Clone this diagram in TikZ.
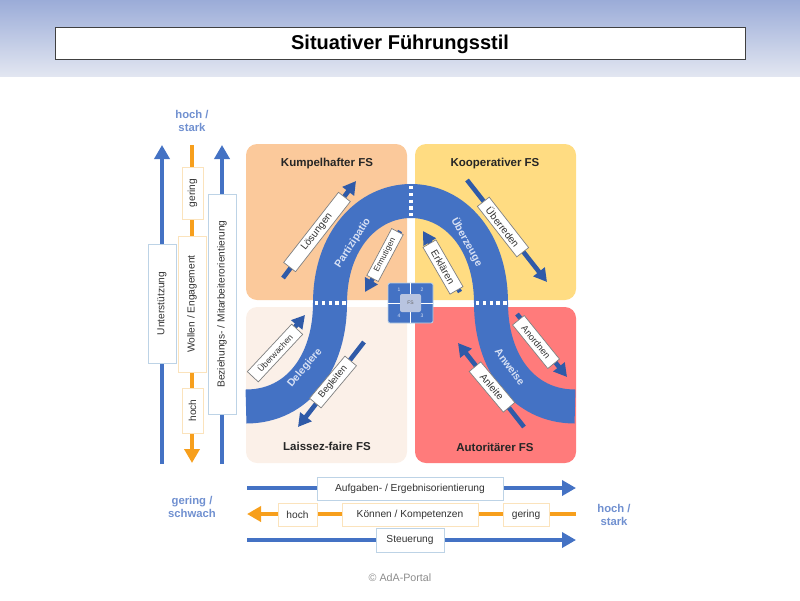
\documentclass[tikz,border=0pt]{standalone}
\usepackage{fontspec}
\setmainfont{Liberation Sans}
\usetikzlibrary{positioning,arrows.meta}
\definecolor{bandtop}{HTML}{9BACD8}
\definecolor{bandbot}{HTML}{E2E6F1}
\definecolor{flowblue}{HTML}{4472C4}
\definecolor{darkblue}{HTML}{2F5AA8}
\definecolor{floworange}{HTML}{F79F1C}
\definecolor{headblue}{HTML}{7090D0}
\definecolor{edgeblue}{HTML}{BDD3E6}
\definecolor{edgeorange}{HTML}{FBE3BC}
\definecolor{archtext}{HTML}{D8E1F4}
\definecolor{fsinner}{HTML}{B8C4E0}
\definecolor{kumpelfill}{HTML}{FBC99B}
\definecolor{koopfill}{HTML}{FFDC82}
\definecolor{laissezfill}{HTML}{FBF0E8}
\definecolor{autorfill}{HTML}{FF7B7B}

\begin{document}
\begin{tikzpicture}[x=1pt,y=-1pt]
      \tikzstyle{quadrant}=[rectangle, rounded corners=11pt, minimum width=161pt, minimum height=156pt, outer sep=0pt, inner sep=0pt]
      \tikzstyle{fstitle}=[font=\fontsize{11.5}{13}\selectfont\bfseries, text=black!85]
      \tikzstyle{axis}=[font=\fontsize{11.3}{13}\selectfont\bfseries, text=headblue, align=center]
      \tikzstyle{axisblue}=[-{Triangle[width=15pt,length=14pt]}, line width=4.8pt, flowblue]
      \tikzstyle{axisorange}=[-{Triangle[width=15pt,length=14pt]}, line width=4.8pt, floworange]
      \tikzstyle{bluebox}=[rectangle, draw=edgeblue, fill=white, line width=0.8pt, inner sep=0pt, font=\fontsize{10.2}{12}\selectfont, text=black!80]
      \tikzstyle{orangebox}=[rectangle, draw=edgeorange, fill=white, line width=0.8pt, inner sep=0pt, font=\fontsize{10.2}{12}\selectfont, text=black!80]
      \tikzstyle{flow}=[-{Triangle[width=14pt,length=13pt]}, line width=4.6pt, darkblue]
      \tikzstyle{tag}=[rectangle, draw=black!50, fill=white, line width=0.7pt, minimum height=15pt, inner sep=0pt, font=\fontsize{10}{11}\selectfont, text=black!80]
      \tikzstyle{archword}=[font=\fontsize{10.5}{12}\selectfont\bfseries, text=archtext]
      \tikzstyle{dots}=[white, line width=3.2pt, dash pattern=on 3.4pt off 3.4pt]
      \tikzstyle{fsnum}=[font=\fontsize{5}{6}\selectfont, text=archtext]

      \useasboundingbox (0,0) rectangle (800,600);

      % header
      \shade[top color=bandtop, bottom color=bandbot] (0,0) rectangle (800,76);
      \node[rectangle, draw=black!75, fill=white, line width=0.9pt, minimum width=690pt, minimum height=32pt, inner sep=0pt] (title) at (400,43) {};
      \node[font=\fontsize{20}{22}\selectfont\bfseries] (titletext) at (400,44) {Situativer Führungsstil};

      % quadrants
      \node[quadrant, fill=kumpelfill] (kumpel) at (326.5,222) {};
      \node[quadrant, fill=koopfill] (koop) [right=8pt of kumpel] {};
      \node[quadrant, fill=laissezfill] (laissez) [below=7pt of kumpel] {};
      \node[quadrant, fill=autorfill] (autor) [below=7pt of koop] {};
      \node[fstitle] (kumpeltext) at (327,163.5) {Kumpelhafter FS};
      \node[fstitle] (kooptext) at (495,163.5) {Kooperativer FS};
      \node[fstitle] (laisseztext) at (327,446.5) {Laissez-faire FS};
      \node[fstitle] (autortext) at (495,447.5) {Autoritärer FS};

      % arch
      \draw[flowblue, line width=34pt] (246,406.5) .. controls (298,406.5) and (330,362) .. (330,303)
        .. controls (330,240) and (368,201) .. (411,201)
        .. controls (454,201) and (491,240) .. (491,303)
        .. controls (491,362) and (523,406.5) .. (575,406.5);
      \draw[dots] (411,186) -- (411,216);
      \draw[dots] (315,303) -- (346,303);
      \draw[dots] (476,303) -- (507,303);
      \node[archword, rotate=57] (partizipatio) at (353,243) {Partizipatio};
      \node[archword, rotate=-61] (ueberzeuge) at (467,242) {Überzeuge};
      \node[archword, rotate=50] (delegiere) at (305,368) {Delegiere};
      \node[archword, rotate=-54] (anweise) at (510,367) {Anweise};

      % flows
      \coordinate (l1) at (283,278);
      \coordinate (l2) at (356,181);
      \coordinate (b1) at (467,180);
      \coordinate (b2) at (547,282);
      \coordinate (m1) at (400,231);
      \coordinate (m2) at (365,292);
      \coordinate (e1) at (460,292);
      \coordinate (e2) at (423,231);
      \coordinate (w1) at (253,377);
      \coordinate (w2) at (305,315);
      \coordinate (g1) at (364,342);
      \coordinate (g2) at (298,427);
      \coordinate (o1) at (517,314);
      \coordinate (o2) at (567,377);
      \coordinate (a1) at (524,427);
      \coordinate (a2) at (458,343);
      \draw[flow] (l1) -- (l2);
      \draw[flow] (b1) -- (b2);
      \draw[flow] (m1) -- (m2);
      \draw[flow] (e1) -- (e2);
      \draw[flow] (w1) -- (w2);
      \draw[flow] (g1) -- (g2);
      \draw[flow] (o1) -- (o2);
      \draw[flow] (a1) -- (a2);
      \node[tag, minimum width=89pt, rotate=52] (loesungen) at (317,232) {Lösungen};
      \node[tag, minimum width=64pt, rotate=-52] (ueberreden) at (503,227) {Überreden};
      \node[tag, minimum width=53pt, minimum height=13pt, rotate=62, font=\fontsize{8.1}{9}\selectfont] (ermutigen) at (385,255) {Ermutigen};
      \node[tag, minimum width=54pt, rotate=-60] (erklaeren) at (443,267) {Erklären};
      \node[tag, minimum width=65pt, rotate=47, font=\fontsize{8.4}{9}\selectfont] (ueberwachen) at (275,353) {Überwachen};
      \node[tag, minimum width=55pt, rotate=50, font=\fontsize{9.4}{10}\selectfont] (begleiten) at (333,382) {Begleiten};
      \node[tag, minimum width=56pt, rotate=-51, font=\fontsize{9.2}{10}\selectfont] (anordnen) at (536,342) {Anordnen};
      \node[tag, minimum width=53pt, rotate=-50] (anleite) at (492,387) {Anleite};

      % centre
      \node[rectangle, rounded corners=2pt, draw=edgeblue, fill=flowblue, line width=0.8pt, minimum width=45pt, minimum height=40pt, inner sep=0pt] (fsbox) at (410.5,303) {};
      \draw[white, line width=0.8pt] (fsbox.north) -- (fsbox.south);
      \draw[white, line width=0.8pt] (fsbox.west) -- (fsbox.east);
      \node[rectangle, rounded corners=2pt, fill=fsinner, minimum width=21pt, minimum height=18pt, inner sep=0pt, font=\fontsize{5}{6}\selectfont, text=black!60] (fs) at (410.5,303) {FS};
      \node[fsnum] (n1) at (399,290) {1};
      \node[fsnum] (n2) at (422,290) {2};
      \node[fsnum] (n3) at (422,316) {3};
      \node[fsnum] (n4) at (399,316) {4};

      % left axes
      \coordinate (u1) at (162,464);
      \coordinate (u2) at (162,145);
      \coordinate (w3) at (192,145);
      \coordinate (w4) at (192,463);
      \coordinate (z1) at (222,464);
      \coordinate (z2) at (222,145);
      \draw[axisblue] (u1) -- (u2);
      \draw[axisorange] (w3) -- (w4);
      \draw[axisblue] (z1) -- (z2);
      \node[bluebox, minimum width=119pt, minimum height=28pt, rotate=90] (unterstuetzung) at (162,303.5) {Unterstützung};
      \node[orangebox, minimum width=52pt, minimum height=21pt, rotate=90] (wgering) at (192.5,193) {gering};
      \node[orangebox, minimum width=136pt, minimum height=28pt, rotate=90] (wollen) at (192,304) {Wollen / Engagement};
      \node[orangebox, minimum width=45pt, minimum height=21pt, rotate=90] (whoch) at (192.5,410.5) {hoch};
      \node[bluebox, minimum width=220pt, minimum height=28pt, rotate=90] (beziehung) at (222,304) {Beziehungs- / Mitarbeiterorientierung};
      \node[axis] (hochtop) at (192,121) {hoch /\\stark};
      \node[axis] (geringleft) at (192,507) {gering /\\schwach};
      \node[axis] (hochright) at (614,515) {hoch /\\stark};

      % bottom axes
      \coordinate (ae1) at (247,488);
      \coordinate (ae2) at (576,488);
      \coordinate (kk1) at (576,514);
      \coordinate (kk2) at (247,514);
      \coordinate (st1) at (247,540);
      \coordinate (st2) at (576,540);
      \draw[axisblue] (ae1) -- (ae2);
      \draw[axisorange] (kk1) -- (kk2);
      \draw[axisblue] (st1) -- (st2);
      \node[bluebox, minimum width=186pt, minimum height=23pt] (aufgaben) at (410,488.5) {Aufgaben- / Ergebnisorientierung};
      \node[orangebox, minimum width=39pt, minimum height=23pt] (khoch) at (297.5,514.5) {hoch};
      \node[orangebox, minimum width=136pt, minimum height=23pt] (koennen) at (410,514.5) {Können / Kompetenzen};
      \node[orangebox, minimum width=46pt, minimum height=23pt] (kgering) at (526,514.5) {gering};
      \node[bluebox, minimum width=68pt, minimum height=24pt] (steuerung) at (410,540) {Steuerung};

      % source
      \node[font=\fontsize{10.7}{12}\selectfont, text=black!45] (source) at (400,578) {© AdA-Portal};
\end{tikzpicture}
\end{document}
